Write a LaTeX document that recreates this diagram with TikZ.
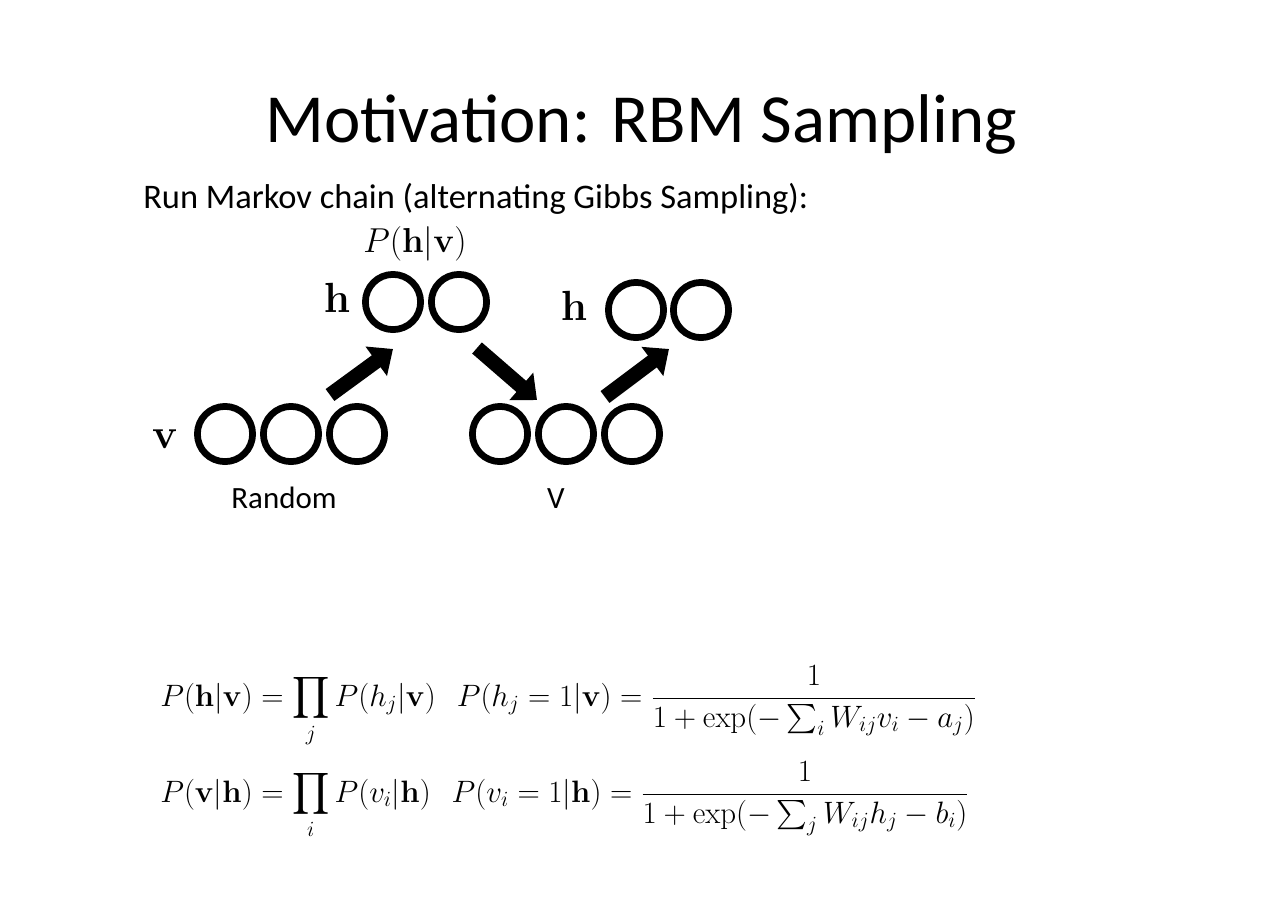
\documentclass[tikz,border=0pt]{standalone}
\usepackage{fix-cm}
\usepackage{amsmath}
\usepackage[no-math]{fontspec}
\setmainfont{Carlito}
\usetikzlibrary{arrows.meta, calc}

\begin{document}
\begin{tikzpicture}[x=0.025cm, y=-0.025cm,
  unit/.style={circle, draw=black, line width=4.8pt, minimum size=1.38cm, inner sep=0pt},
  arr/.style={line width=10.5pt, -{Triangle[length=0.52cm, width=0.88cm]}},
  lbl/.style={font=\fontsize{30}{36}\selectfont, inner sep=0pt},
  layername/.style={font=\fontsize{22}{26}\selectfont, inner sep=0pt},
  eqn/.style={font=\fontsize{22}{26}\selectfont, inner sep=0pt},
]
  \fill[white] (0,0) rectangle (1280,904);
  \useasboundingbox (0,0) rectangle (1280,904);

  \node[font=\fontsize{49}{58}\selectfont, inner sep=0pt, anchor=base] (title) at (641,142) {Motivation: RBM Sampling};
  \node[font=\fontsize{24.5}{29}\selectfont, inner sep=0pt, anchor=base west] (intro) at (143,208) {Run Markov chain (alternating Gibbs Sampling):};

  % visible layers
  \node[lbl, anchor=base] (vlbl) at (165,448) {$\mathbf{v}$};
  \node[unit] (va) at (225,434) {};
  \node[unit] (vb) at (291,434) {};
  \node[unit] (vc) at (357,434) {};
  \node[layername, anchor=base] (rnd) at (284,508) {Random};

  \node[unit] (wa) at (500,434) {};
  \node[unit] (wb) at (566,434) {};
  \node[unit] (wc) at (632,434) {};
  \node[layername, anchor=base] (vv) at (556,508) {V};

  % hidden layers
  \node[lbl, anchor=base] (hlbl) at (337,312) {$\mathbf{h}$};
  \node[unit] (ha) at (393,302) {};
  \node[unit] (hb) at (459,302) {};
  \node[font=\fontsize{24.6}{29}\selectfont, inner sep=0pt, anchor=base] (phv) at (415,252) {$P(\mathbf{h}|\mathbf{v})$};

  \node[lbl, anchor=base] (glbl) at (574,320) {$\mathbf{h}$};
  \node[unit] (ga) at (636,310) {};
  \node[unit] (gb) at (701,310) {};

  % sampling steps
  \draw[arr] ($(vc.north)+(-27,-8)$) -- ($(ha.south)+(0,16)$);
  \draw[arr] ($(hb.south)+(18,15)$) -- ($(wb.north)+(-29,-3)$);
  \draw[arr] ($(wc.north)+(-27,-6)$) -- ($(ga.south)+(33,8)$);

  % conditionals
  \node[eqn, anchor=base west] (eqh) at (160,706)
    {$\displaystyle P(\mathbf{h}|\mathbf{v}) = \prod_j P(h_j|\mathbf{v})\ \ \ P(h_j=1|\mathbf{v}) = \frac{1}{1+\exp(-\sum_i W_{ij}v_i - a_j)}$};
  \node[eqn, anchor=base west] (eqv) at (160,802)
    {$\displaystyle P(\mathbf{v}|\mathbf{h}) = \prod_i P(v_i|\mathbf{h})\ \ \ P(v_i=1|\mathbf{h}) = \frac{1}{1+\exp(-\sum_j W_{ij}h_j - b_i)}$};
\end{tikzpicture}
\end{document}
